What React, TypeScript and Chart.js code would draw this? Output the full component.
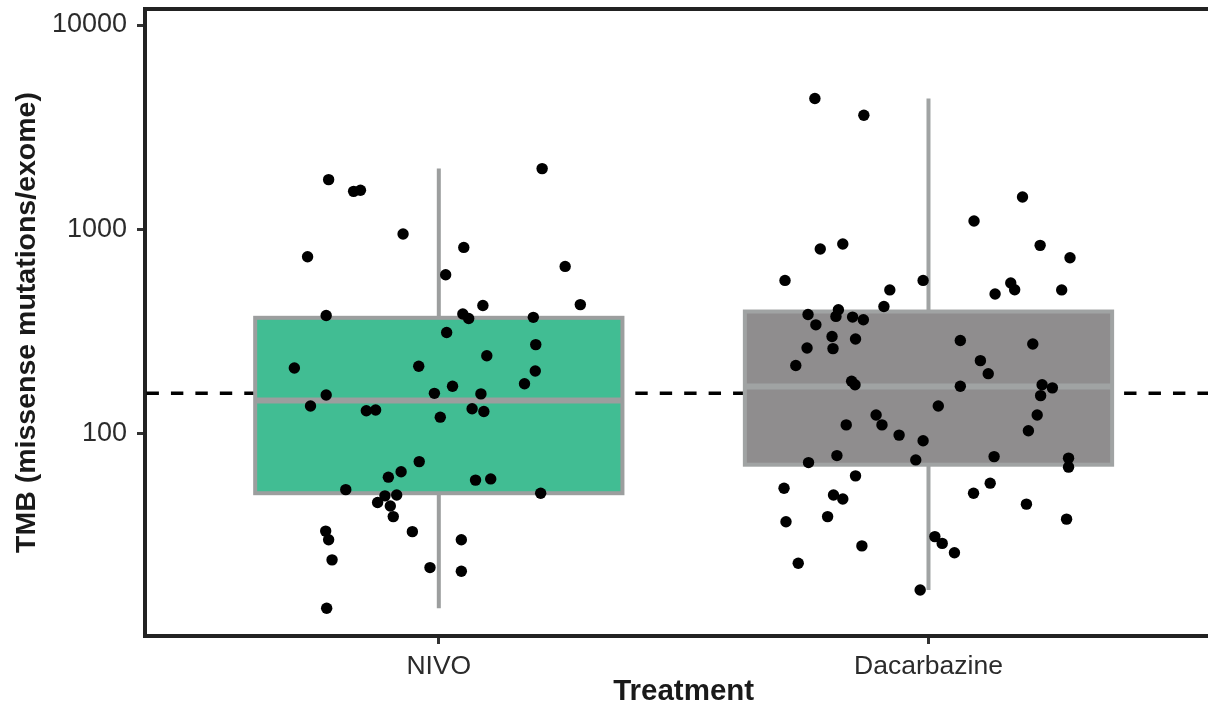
import React, { useEffect, useRef } from "react";
import { Chart, registerables } from "chart.js";

Chart.register(...registerables);

const categories = ["NIVO", "Dacarbazine"];
const yTickValues = [100, 1000, 10000];
const referenceLine = 157;

// TMB values, with their horizontal jitter offsets
const nivoValues = [1748, 1532, 1550, 947, 733, 1980, 814, 598, 657, 423, 427, 378, 384, 365, 370, 312, 272, 240, 209, 213, 202, 175, 170, 154, 157, 156, 136, 129, 130, 132, 128, 120, 72.7, 64.8, 61.0, 59.0, 59.8, 53.0, 50.9, 49.4, 49.9, 45.8, 44.1, 39.1, 33.2, 30.1, 33.0, 30.1, 24.0, 22.0, 21.1, 13.9];
const nivoJitter = [-0.225, -0.174, -0.16, -0.073, -0.268, 0.211, 0.051, 0.014, 0.258, 0.09, 0.289, -0.23, 0.049, 0.061, 0.193, 0.016, 0.198, 0.098, -0.295, -0.041, 0.197, 0.175, 0.028, -0.23, -0.009, 0.086, -0.262, -0.148, -0.129, 0.068, 0.092, 0.003, -0.04, -0.077, -0.103, 0.075, 0.106, -0.19, 0.208, -0.11, -0.086, -0.125, -0.099, -0.093, -0.231, -0.225, -0.054, 0.046, -0.218, -0.018, 0.046, -0.229];

const dacValues = [4362, 3613, 1438, 1097, 833, 725, 800, 846, 561, 561, 504, 545, 505, 481, 504, 418, 382, 403, 374, 371, 360, 340, 298, 290, 285, 274, 262, 260, 215, 227, 196, 180, 173, 170, 173, 167, 153, 136, 123, 110, 110, 123, 103, 98, 91.9, 77.8, 74.1, 76.9, 71.9, 75.6, 68.3, 61.9, 53.8, 49.9, 47.7, 50.9, 57.0, 45.0, 39.1, 36.9, 38.0, 28.1, 31.2, 28.9, 26.0, 23.1, 17.1];
const dacJitter = [-0.232, -0.132, 0.192, 0.093, 0.228, 0.289, -0.221, -0.175, -0.293, -0.011, -0.079, 0.168, 0.176, 0.136, 0.272, -0.091, -0.246, -0.184, -0.189, -0.155, -0.133, -0.23, -0.197, -0.149, 0.065, 0.213, -0.248, -0.195, -0.271, 0.106, 0.122, -0.157, -0.15, 0.065, 0.232, 0.253, 0.229, 0.02, -0.107, -0.095, -0.168, 0.222, 0.204, -0.06, -0.011, -0.187, -0.026, 0.134, -0.245, 0.286, 0.286, -0.149, -0.295, -0.194, -0.175, 0.092, 0.126, 0.2, -0.206, -0.291, 0.282, -0.136, 0.013, 0.028, 0.053, -0.266, -0.017];

// box stats: [lower whisker, Q1, median, Q3, upper whisker]
const nivoBox = [13.9, 50.9, 144.8, 368, 1980];
const dacBox = [17.1, 70.2, 169.6, 395, 4362];

const boxStats = [nivoBox, dacBox];
const boxFills = ["#41BD93", "#8F8D8E"];
const boxBorders = ["#9C9E9E", "#A0A3A3"];
const boxWidth = 0.75;

const FONT = '"Liberation Sans", Arial, Helvetica, sans-serif';

const boxPlugin = {
  id: "boxplots",
  beforeDatasetsDraw(chart: any) {
    const { ctx, chartArea, scales } = chart;
    const x = scales.x;
    const y = scales.y;
    ctx.save();
    // dashed reference line
    const yl = y.getPixelForValue(referenceLine);
    ctx.setLineDash([12.4, 12.04]);
    ctx.lineWidth = 3.5;
    ctx.strokeStyle = "#000";
    ctx.beginPath();
    ctx.moveTo(chartArea.left + 1.5, yl);
    ctx.lineTo(chartArea.right, yl);
    ctx.stroke();
    ctx.setLineDash([]);

    boxStats.forEach((s, i) => {
      const c = i + 1;
      const xc = x.getPixelForValue(c);
      const x0 = x.getPixelForValue(c - boxWidth / 2);
      const x1 = x.getPixelForValue(c + boxWidth / 2);
      const yLo = y.getPixelForValue(s[0]);
      const yQ1 = y.getPixelForValue(s[1]);
      const yMed = y.getPixelForValue(s[2]);
      const yQ3 = y.getPixelForValue(s[3]);
      const yHi = y.getPixelForValue(s[4]);
      // whiskers
      ctx.strokeStyle = boxBorders[i];
      ctx.lineWidth = 4;
      ctx.beginPath();
      ctx.moveTo(xc, yHi);
      ctx.lineTo(xc, yQ3);
      ctx.moveTo(xc, yQ1);
      ctx.lineTo(xc, yLo);
      ctx.stroke();
      // box
      ctx.fillStyle = boxFills[i];
      ctx.fillRect(x0, yQ3, x1 - x0, yQ1 - yQ3);
      ctx.strokeRect(x0, yQ3, x1 - x0, yQ1 - yQ3);
      // median
      ctx.lineWidth = 6;
      ctx.beginPath();
      ctx.moveTo(x0, yMed);
      ctx.lineTo(x1, yMed);
      ctx.stroke();
    });
    ctx.restore();
  },
  afterDraw(chart: any) {
    const { ctx, chartArea } = chart;
    ctx.save();
    ctx.strokeStyle = "#222";
    ctx.lineWidth = 4;
    ctx.beginPath();
    ctx.moveTo(chartArea.left - 2, chartArea.top);
    ctx.lineTo(chartArea.right + 10, chartArea.top);
    ctx.stroke();
    ctx.restore();
  },
};

export default function App() {
  const ref = useRef<HTMLCanvasElement | null>(null);

  useEffect(() => {
    if (!ref.current) return;
    Chart.defaults.font.family = FONT;
    const chart = new Chart(ref.current, {
      type: "scatter",
      data: {
        datasets: [
          {
            label: categories[0],
            data: nivoValues.map((v, i) => ({ x: 1 + nivoJitter[i], y: v })),
            backgroundColor: "#000",
            borderWidth: 0,
            pointRadius: 5.7,
          },
          {
            label: categories[1],
            data: dacValues.map((v, i) => ({ x: 2 + dacJitter[i], y: v })),
            backgroundColor: "#000",
            borderWidth: 0,
            pointRadius: 5.7,
          },
        ],
      },
      options: {
        animation: false,
        responsive: false,
        maintainAspectRatio: false,
        layout: { padding: { top: 9, left: 0, right: 0, bottom: 0 } },
        plugins: {
          legend: { display: false },
          tooltip: { enabled: false },
        },
        scales: {
          x: {
            type: "linear",
            min: 0.4,
            max: 2.6,
            afterBuildTicks: (s: any) => {
              s.ticks = categories.map((_, i) => ({ value: i + 1 }));
            },
            afterFit: (s: any) => {
              s.height = 74;
              s.paddingLeft = 0;
              s.paddingRight = 0;
            },
            ticks: {
              callback: (v: any) => categories[Math.round(Number(v)) - 1] ?? "",
              color: "#2b2b2b",
              font: { size: 26.5, family: FONT },
              padding: 7,
              maxRotation: 0,
              autoSkip: false,
            },
            grid: {
              display: true,
              drawOnChartArea: false,
              drawTicks: true,
              tickLength: 8,
              tickWidth: 3,
              tickColor: "#333",
            },
            border: { display: true, width: 4, color: "#222" },
            title: {
              display: true,
              text: "Treatment",
              color: "#1a1a1a",
              font: { size: 29.5, weight: "bold", family: FONT },
              padding: { top: 0, bottom: 0 },
            },
          },
          y: {
            type: "logarithmic",
            min: 10.17,
            max: 11979,
            afterBuildTicks: (s: any) => {
              s.ticks = yTickValues.map((v) => ({ value: v }));
            },
            afterFit: (s: any) => {
              s.width = 145;
              s.paddingTop = 0;
              s.paddingBottom = 0;
            },
            ticks: {
              callback: (v: any) => String(v),
              color: "#2b2b2b",
              font: { size: 27, family: FONT },
              padding: 10,
              autoSkip: false,
            },
            grid: {
              display: true,
              drawOnChartArea: false,
              drawTicks: true,
              tickLength: 8,
              tickWidth: 3,
              tickColor: "#333",
            },
            border: { display: true, width: 4, color: "#222" },
            title: {
              display: true,
              text: "TMB (missense mutations/exome)",
              color: "#1a1a1a",
              font: { size: 28.5, weight: "bold", family: FONT },
              padding: { top: 10, bottom: 0 },
            },
          },
        },
      },
      plugins: [boxPlugin],
    } as any);
    return () => chart.destroy();
  }, []);

  return (
    <div
      style={{
        position: "fixed",
        left: 0,
        top: 0,
        width: "1208px",
        height: "710px",
        overflow: "hidden",
        background: "#fff",
      }}
    >
      <canvas ref={ref} width={1228} height={710} style={{ display: "block" }} />
    </div>
  );
}
